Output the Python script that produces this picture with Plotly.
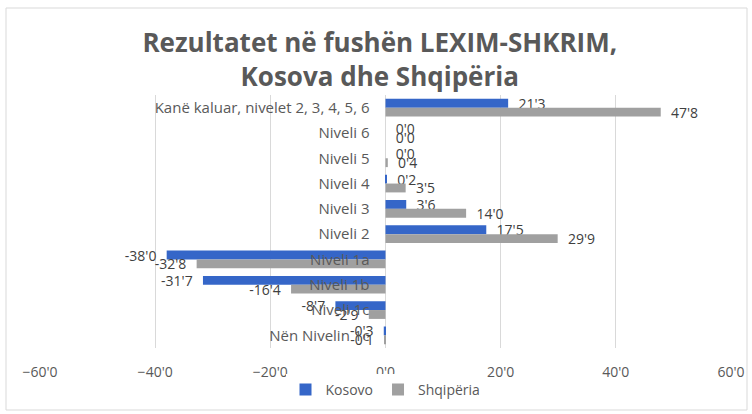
import plotly.graph_objects as go

categories = [
    "Kanë kaluar, nivelet 2, 3, 4, 5, 6",
    "Niveli 6",
    "Niveli 5",
    "Niveli 4",
    "Niveli 3",
    "Niveli 2",
    "Niveli 1a",
    "Niveli 1b",
    "Niveli 1c",
    "Nën Nivelin 1c",
]
kosovo = [21.3, 0.0, 0.0, 0.2, 3.6, 17.5, -38.0, -31.7, -8.7, -0.3]
shqiperia = [47.8, 0.0, 0.4, 3.5, 14.0, 29.9, -32.8, -16.4, -2.9, -0.1]
x_ticks = [-60, -40, -20, 0, 20, 40, 60]

FONT = "'Open Sans', Lato, sans-serif"
W, H = 752, 414
L, R, T, B = 40, 21, 95, 66
PAD = "\u00a0\u00a0"


def label_templates(values):
    return [PAD + "%{x:.1f}" if v >= 0 else "%{x:.1f}" + PAD for v in values]


fig = go.Figure()
fig.add_trace(go.Bar(
    y=categories, x=kosovo, name="Kosovo", orientation="h",
    marker=dict(color="#3566C8", line=dict(width=0)),
    texttemplate=label_templates(kosovo), textposition="outside",
    cliponaxis=False, constraintext="none",
    textfont=dict(family=FONT, size=14, color="#404040"),
))
fig.add_trace(go.Bar(
    y=categories, x=shqiperia, name="Shqipëria", orientation="h",
    marker=dict(color="#A0A0A0", line=dict(width=0)),
    texttemplate=label_templates(shqiperia), textposition="outside",
    cliponaxis=False, constraintext="none",
    textfont=dict(family=FONT, size=14, color="#404040"),
))

pw = W - L - R
ph = H - T - B
fig.add_shape(type="rect", xref="paper", yref="paper",
              x0=(6 - L) / pw, x1=(747 - L) / pw,
              y0=(H - B - 410) / ph, y1=(H - B - 8) / ph,
              line=dict(color="#D9D9D9", width=1), layer="below")

fig.update_layout(
    width=W, height=H,
    margin=dict(l=L, r=R, t=T, b=B, autoexpand=False),
    paper_bgcolor="white", plot_bgcolor="white",
    separators="',",
    barmode="group", bargap=0.3, bargroupgap=0.0,
    font=dict(family=FONT, color="#595959"),
    title=dict(
        text="<b>Rezultatet në fushën LEXIM-SHKRIM,<br>Kosova dhe Shqipëria</b>",
        x=0.505, xanchor="center", y=1 - 52 / H, yanchor="top",
        font=dict(family=FONT, size=26, color="#595959"),
    ),
    xaxis=dict(
        range=[-60, 60], tickvals=x_ticks, tickformat=".1f",
        showgrid=True, gridcolor="#D9D9D9", gridwidth=1,
        zeroline=True, zerolinecolor="#D9D9D9", zerolinewidth=1,
        showline=False, ticks="", ticklabelstandoff=14, automargin=False,
        tickfont=dict(family=FONT, size=14, color="#595959"),
    ),
    yaxis=dict(
        categoryorder="array", categoryarray=categories,
        autorange="reversed",
        anchor="free", position=0.5, automargin=False,
        showgrid=False, zeroline=False, showline=False, ticks="",
        ticklabelstandoff=16,
        tickfont=dict(family=FONT, size=15, color="#595959"),
    ),
    legend=dict(
        orientation="h", x=0.5, xanchor="center",
        y=-42 / ph, yanchor="middle", itemwidth=30,
        font=dict(family=FONT, size=14, color="#595959"),
        traceorder="normal",
    ),
)

fig.write_html("out.html", config={"displayModeBar": False},
               post_script="document.body.style.margin='0';")
